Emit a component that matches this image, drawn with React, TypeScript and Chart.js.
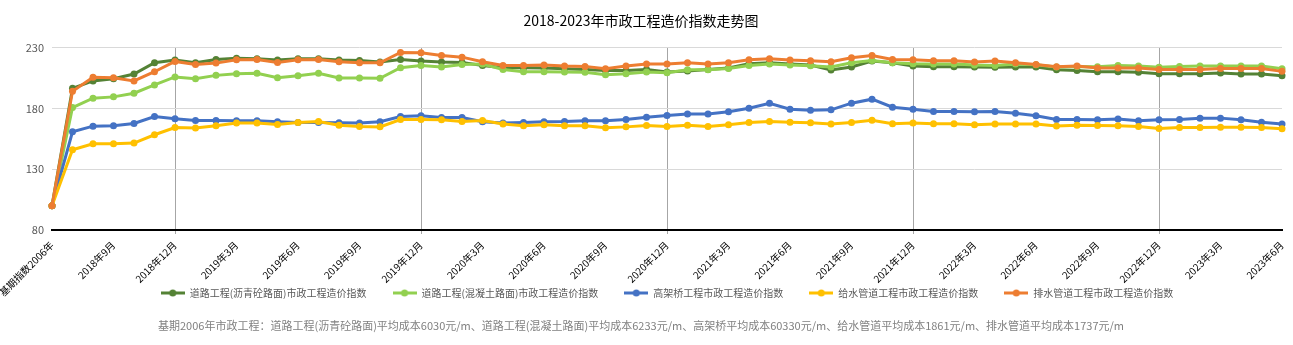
import React, { useEffect, useRef } from 'react';
import { Chart, registerables } from 'chart.js';

Chart.register(...registerables);

const categories = [
  '基期指数2006年',
  '2018年7月', '2018年8月', '2018年9月', '2018年10月', '2018年11月', '2018年12月',
  '2019年1月', '2019年2月', '2019年3月', '2019年4月', '2019年5月', '2019年6月',
  '2019年7月', '2019年8月', '2019年9月', '2019年10月', '2019年11月', '2019年12月',
  '2020年1月', '2020年2月', '2020年3月', '2020年4月', '2020年5月', '2020年6月',
  '2020年7月', '2020年8月', '2020年9月', '2020年10月', '2020年11月', '2020年12月',
  '2021年1月', '2021年2月', '2021年3月', '2021年4月', '2021年5月', '2021年6月',
  '2021年7月', '2021年8月', '2021年9月', '2021年10月', '2021年11月', '2021年12月',
  '2022年1月', '2022年2月', '2022年3月', '2022年4月', '2022年5月', '2022年6月',
  '2022年7月', '2022年8月', '2022年9月', '2022年10月', '2022年11月', '2022年12月',
  '2023年1月', '2023年2月', '2023年3月', '2023年4月', '2023年5月', '2023年6月',
];

const asphaltRoad = [
  100, 196.7, 202.7, 204.6, 208.4, 217.7, 219.9, 217.7, 220.4, 221.3, 221.0, 219.9, 221.0,
  221.0, 219.9, 219.6, 218.3, 220.4, 219.1, 218.3, 218.0, 215.5, 213.6, 213.6, 213.3,
  212.8, 212.2, 211.4, 211.4, 212.2, 210.1, 210.9, 212.2, 213.3, 216.9, 217.7, 216.6,
  215.8, 211.7, 214.2, 219.1, 217.7, 215.0, 214.4, 214.4, 214.2, 213.9, 214.2, 214.2,
  212.0, 211.4, 210.3, 210.3, 209.8, 208.7, 208.7, 208.7, 209.3, 208.4, 208.4, 207.0,
];

const concreteRoad = [
  100, 180.8, 188.5, 189.6, 192.6, 199.4, 206.0, 204.6, 207.3, 208.7, 209.0, 205.4, 207.0,
  209.0, 205.1, 205.1, 204.9, 213.6, 215.5, 214.2, 216.3, 216.6, 212.2, 210.3, 210.3,
  210.1, 209.8, 207.9, 208.7, 210.1, 209.5, 212.0, 212.0, 213.0, 215.5, 216.6, 215.8,
  215.2, 214.2, 217.7, 219.6, 217.7, 216.9, 216.6, 216.6, 215.8, 215.5, 216.6, 216.0,
  214.2, 214.7, 214.4, 215.5, 215.0, 213.9, 214.7, 215.0, 215.0, 215.0, 215.0, 212.8,
];

const viaduct = [
  100, 160.9, 165.5, 165.8, 167.7, 173.4, 171.5, 170.2, 170.2, 169.9, 169.9, 169.1, 168.5,
  168.5, 168.3, 168.0, 169.1, 173.4, 174.0, 172.6, 172.6, 169.1, 168.0, 168.5, 169.1,
  169.3, 169.9, 169.9, 171.0, 172.9, 174.2, 175.4, 175.6, 177.3, 180.3, 184.4, 179.5,
  178.6, 178.9, 184.4, 187.7, 181.1, 179.5, 177.6, 177.6, 177.3, 177.6, 176.2, 174.0,
  171.0, 171.0, 170.7, 171.3, 169.9, 170.7, 171.0, 172.1, 172.1, 170.7, 168.8, 167.2,
];

const waterSupply = [
  100, 146.1, 151.0, 151.0, 151.6, 158.4, 164.4, 163.9, 165.8, 168.0, 168.0, 166.9, 168.5,
  169.3, 166.3, 165.2, 164.9, 171.0, 171.0, 170.7, 169.3, 170.2, 167.2, 165.8, 166.6,
  165.8, 165.8, 164.1, 164.9, 166.1, 165.2, 166.3, 165.2, 166.6, 168.5, 169.3, 168.8,
  168.3, 167.2, 168.5, 170.4, 167.5, 168.0, 167.5, 167.5, 166.6, 167.2, 167.2, 167.2,
  165.6, 166.3, 166.1, 165.8, 165.2, 163.6, 164.4, 164.4, 164.6, 164.6, 164.4, 163.3,
];

const drainage = [
  100, 194.2, 205.7, 205.4, 202.7, 210.3, 218.8, 216.3, 217.4, 220.2, 220.4, 218.0, 220.2,
  220.4, 218.5, 217.7, 217.7, 226.2, 225.9, 223.7, 222.3, 218.5, 215.5, 215.5, 215.8,
  215.0, 214.7, 212.8, 215.0, 216.6, 216.6, 217.7, 216.6, 217.7, 220.2, 221.0, 219.9,
  219.4, 218.5, 221.8, 223.7, 220.4, 220.2, 219.4, 219.4, 218.3, 219.1, 217.7, 216.3,
  214.4, 215.0, 213.3, 213.3, 213.3, 212.2, 212.2, 212.2, 213.0, 213.0, 213.0, 210.6,
];

const seriesNames = [
  '道路工程(沥青砼路面)市政工程造价指数',
  '道路工程(混凝土路面)市政工程造价指数',
  '高架桥工程市政工程造价指数',
  '给水管道工程市政工程造价指数',
  '排水管道工程市政工程造价指数',
];
const seriesValues = [asphaltRoad, concreteRoad, viaduct, waterSupply, drainage];
const seriesColors = ['#548235', '#92D050', '#4472C4', '#FFC000', '#ED7D31'];

const yMin = 80;
const yMax = 230;
const yStep = 50;

const titleText = '2018-2023年市政工程造价指数走势图';
const footnoteText =
  '基期2006年市政工程：道路工程(沥青砼路面)平均成本6030元/m、道路工程(混凝土路面)平均成本6233元/m、高架桥平均成本60330元/m、给水管道平均成本1861元/m、排水管道平均成本1737元/m';

const FONT = "'Noto Sans CJK SC', 'Noto Sans', sans-serif";

function legendIcon(color: string): HTMLCanvasElement {
  const c = document.createElement('canvas');
  c.width = 24;
  c.height = 8;
  const g = c.getContext('2d')!;
  g.strokeStyle = color;
  g.lineWidth = 3;
  g.beginPath();
  g.moveTo(0, 4);
  g.lineTo(24, 4);
  g.stroke();
  g.fillStyle = color;
  g.beginPath();
  g.arc(12, 4, 3.5, 0, Math.PI * 2);
  g.fill();
  return c;
}

export default function App() {
  const canvasRef = useRef<HTMLCanvasElement | null>(null);

  useEffect(() => {
    if (!canvasRef.current) return;
    const icons = seriesColors.map((c) => legendIcon(c));
    const chart = new Chart(canvasRef.current, {
      type: 'line',
      data: {
        labels: categories,
        datasets: seriesNames.map((name, i) => ({
          label: name,
          data: seriesValues[i],
          borderColor: seriesColors[i],
          backgroundColor: seriesColors[i],
          pointBackgroundColor: seriesColors[i],
          pointBorderWidth: 0,
          pointRadius: 3.5,
          borderWidth: 3,
          tension: 0,
          order: seriesNames.length - i,
        })),
      },
      options: {
        animation: false,
        responsive: true,
        maintainAspectRatio: false,
        layout: { padding: { left: 0, right: 11, top: 0, bottom: 0 } },
        plugins: {
          tooltip: { enabled: false },
          title: {
            display: true,
            text: titleText,
            color: '#000',
            font: { family: FONT, size: 14, weight: 'normal' },
            padding: { top: 12, bottom: 19 },
          },
          subtitle: {
            display: true,
            position: 'bottom',
            text: footnoteText,
            color: '#808080',
            font: { family: FONT, size: 11, weight: 'normal' },
            padding: { top: 11.4, bottom: 12.4 },
          },
          legend: {
            display: true,
            position: 'bottom',
            fullSize: false,
            labels: {
              usePointStyle: true,
              pointStyleWidth: 24,
              boxHeight: 8,
              padding: 26,
              color: '#595959',
              font: { family: FONT, size: 10 },
              generateLabels: (ch: any) =>
                ch.data.datasets.map((ds: any, i: number) => ({
                  text: ds.label,
                  fillStyle: seriesColors[i],
                  strokeStyle: seriesColors[i],
                  lineWidth: 0,
                  pointStyle: icons[i],
                  hidden: false,
                  datasetIndex: i,
                  fontColor: '#595959',
                })),
            },
          },
        },
        scales: {
          x: {
            type: 'category',
            offset: false,
            afterFit: (s: any) => {
              s.height = 32;
              s.paddingLeft = 0;
              s.paddingRight = 0;
              s._computeLabelArea = () => undefined;
            },
            grid: {
              display: true,
              drawOnChartArea: true,
              drawTicks: true,
              tickLength: 4,
              color: (ctx: any) => (ctx.index % 12 === 6 ? '#a6a6a6' : 'rgba(0,0,0,0)'),
              lineWidth: 1,
            },
            border: { display: true, color: '#000', width: 2 },
            ticks: {
              autoSkip: false,
              minRotation: 45,
              maxRotation: 45,
              padding: 5,
              color: '#000',
              font: { family: FONT, size: 10 },
              callback: (_v: any, i: number) => (i % 3 === 0 ? categories[i] : ''),
            },
          },
          y: {
            min: yMin,
            max: yMax,
            afterFit: (s: any) => {
              s.width = 52;
            },
            grid: { color: '#d9d9d9', lineWidth: 1, drawTicks: false },
            border: { display: false },
            ticks: {
              stepSize: yStep,
              padding: 8,
              color: '#595959',
              font: { family: FONT, size: 11 },
            },
          },
        },
      },
    });
    return () => chart.destroy();
  }, []);

  return (
    <div style={{ position: 'absolute', left: 0, top: 0, width: 1293, height: 345 }}>
      <canvas ref={canvasRef} />
    </div>
  );
}
